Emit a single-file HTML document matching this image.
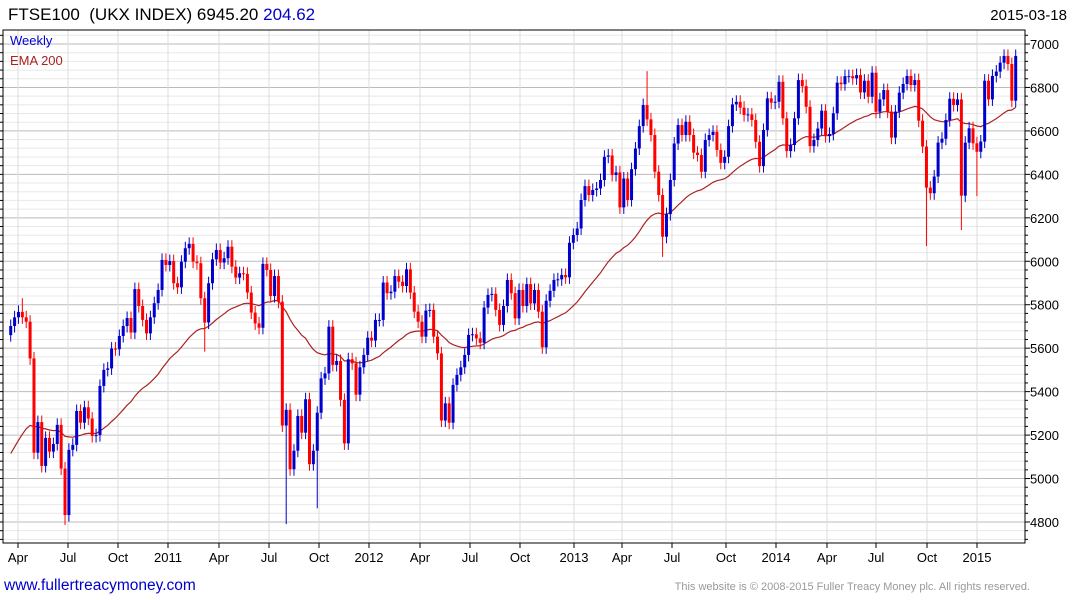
<!DOCTYPE html>
<html><head><meta charset="utf-8"><style>
body{margin:0;background:#fff;width:1075px;height:600px;overflow:hidden;font-family:"Liberation Sans",sans-serif}
svg{display:block}
</style></head><body>
<svg id="chart" width="1075" height="600" xmlns="http://www.w3.org/2000/svg">
<text x="8" y="20" font-size="17" fill="#000" style="white-space:pre" xml:space="preserve">FTSE100  (UKX INDEX) 6945.20 <tspan fill="#0000cc">204.62</tspan></text>
<text x="1067" y="20" font-size="15" fill="#000" text-anchor="end">2015-03-18</text>
<g id="grid"></g>
<g id="ema"></g>
<g id="candles"></g>
<g id="axes"></g>
<text x="10" y="45" font-size="13" fill="#0000cc">Weekly</text>
<text x="10" y="65" font-size="13" fill="#aa2222">EMA 200</text>
<text x="4" y="590" font-size="15.5" fill="#0000cc">www.fullertreacymoney.com</text>
<text x="1030" y="590" font-size="11" fill="#999" text-anchor="end">This website is © 2008-2015 Fuller Treacy Money plc. All rights reserved.</text>
</svg>
<script>
const closes = [
5702,5742,5767,5742,5722,5553,5119,5260,5058,5187,5124,5159,5247,5046,4832,5132,5155,5311,5257,5328,5276,5196,5200,5426,5500,5507,5598,5595,5656,5702,5739,5672,5872,5794,5730,5668,5742,5807,5868,6006,5983,6001,5899,
5880,5998,6060,6080,5998,5991,5830,5718,5899,6009,6052,5994,6014,6067,5975,5925,5945,5942,5856,5764,5714,5694,5988,5960,5840,5932,5814,5244,5316,5043,5128,5288,5211,5365,5066,5128,5303,5461,5484,5699,5523,5541,5362,5162,5549,5530,
5386,5512,5569,5648,5635,5730,5730,5902,5853,5860,5932,5906,5886,5963,5856,5768,5722,5653,5773,5776,5653,5576,5267,5346,5257,5431,5477,5512,5569,5661,5664,5645,5625,5787,5845,5850,5776,5707,5794,5914,5853,5737,5868,5794,
5895,5806,5868,5768,5604,5818,5864,5914,5917,5937,5926,6085,6121,6151,6282,6346,6305,6328,6335,6374,6481,6487,6397,6409,6248,6381,6282,6424,6519,6622,6719,6653,6581,6412,6305,6113,6217,6374,6542,6627,6581,6642,6581,6500,6489,6412,
6558,6581,6596,6512,6453,6481,6622,6722,6734,6707,6673,6676,6650,6550,6438,6604,6750,6730,6734,6826,6658,6507,6535,6658,6834,6806,6711,6530,6558,6611,6693,6576,6586,6681,6822,6815,6852,6852,6842,6857,6777,6831,6757,6868,6688,
6745,6788,6689,6569,6689,6776,6816,6853,6811,6834,6647,6528,6339,6313,6390,6546,6564,6650,6748,6719,6745,6302,6546,6612,6543,6504,6551,6831,6745,6853,6873,6914,6945,6908,6739,6945
];
const lowSpikeIdx = [14,50,71,79,168,236,245,249];
const lowSpikeVal = [4786,5584,4790,4863,6020,6070,6144,6300];
const highSpikeIdx = [3,164];
const highSpikeVal = [5830,6875];
const yTicks = [4800,5000,5200,5400,5600,5800,6000,6200,6400,6600,6800,7000];
const xLabels = ["Apr","Jul","Oct","2011","Apr","Jul","Oct","2012","Apr","Jul","Oct","2013","Apr","Jul","Oct","2014","Apr","Jul","Oct","2015"];
const xLabelPos = [18,68,118,168,219,269,319,369,420,470,520,574,622,672,726,776,827,876,927,977];
const emaSeed = 5085;

const NS="http://www.w3.org/2000/svg";
const L=3,R=1025,T=30,B=543;
function y(p){return 44+(7000-p)*0.21727;}
const N=closes.length;
function x(i){return 10.7+i*(1005/(N-1));}
function mk(tag,attrs,parent){const e=document.createElementNS(NS,tag);for(const k in attrs)e.setAttribute(k,attrs[k]);parent.appendChild(e);return e;}
const grid=document.getElementById('grid'),axes=document.getElementById('axes'),cg=document.getElementById('candles'),eg=document.getElementById('ema');
for(let p=4720;p<=7040;p+=40){const yy=y(p);if(yy<T||yy>B)continue;
 const major=(p%200===0);
 const ln=mk('line',{x1:L,x2:R,y1:yy,y2:yy,stroke:major?'#bbb':'#e8e8e8','stroke-width':1},grid);
 
 
 const tk=mk('line',{x1:R,x2:R+(major?5:3),y1:yy,y2:yy,stroke:'#000'},axes);
 
 
 const tl=mk('line',{x1:L-3,x2:L,y1:yy,y2:yy,stroke:'#000'},axes);
 
 
}
yTicks.forEach(p=>{const t=mk('text',{x:R+5,y:y(p)+5,'font-size':13,fill:'#000'},axes);t.textContent=p;
 
 });
xLabels.forEach((lab,i)=>{const xx=xLabelPos[i];
 const g=mk('line',{x1:xx,x2:xx,y1:T,y2:B,stroke:'#ddd'},grid);
 
 
 const tk=mk('line',{x1:xx,x2:xx,y1:B,y2:B+5,stroke:'#000'},axes);
 
 
 const t=mk('text',{x:xx,y:B+19,'font-size':13,'text-anchor':'middle',fill:'#000'},axes);t.textContent=lab;
 
 });
const fr=mk('rect',{x:L,y:T,width:R-L,height:B-T,fill:'none',stroke:'#000'},axes);


let e=emaSeed,pts=[];const a=2/41;
closes.forEach((c,i)=>{e=e+a*(c-e);pts.push(x(i).toFixed(1)+','+y(e).toFixed(1));});
const pl=mk('polyline',{points:pts.join(' '),fill:'none',stroke:'#aa2222','stroke-width':1.2},eg);


closes.forEach((c,i)=>{
 const o=i===0?5660:closes[i-1];
 const up=c>=o;const col=up?'#0000cc':'#ff0000';
 let hi=Math.max(o,c)+30,lo=Math.min(o,c)-30;
 const hj=highSpikeIdx.indexOf(i);if(hj>=0)hi=highSpikeVal[hj];
 const lj=lowSpikeIdx.indexOf(i);if(lj>=0)lo=lowSpikeVal[lj];
 const xx=x(i);
 const w=mk('line',{x1:xx,x2:xx,y1:y(hi),y2:y(lo),stroke:col,'stroke-width':1},cg);
 
 
 const top=y(Math.max(o,c)),bot=y(Math.min(o,c));
 const b=mk('rect',{x:xx-1.5,y:top,width:3,height:Math.max(1,bot-top),fill:col},cg);
 
 
});
</script>
</body></html>
